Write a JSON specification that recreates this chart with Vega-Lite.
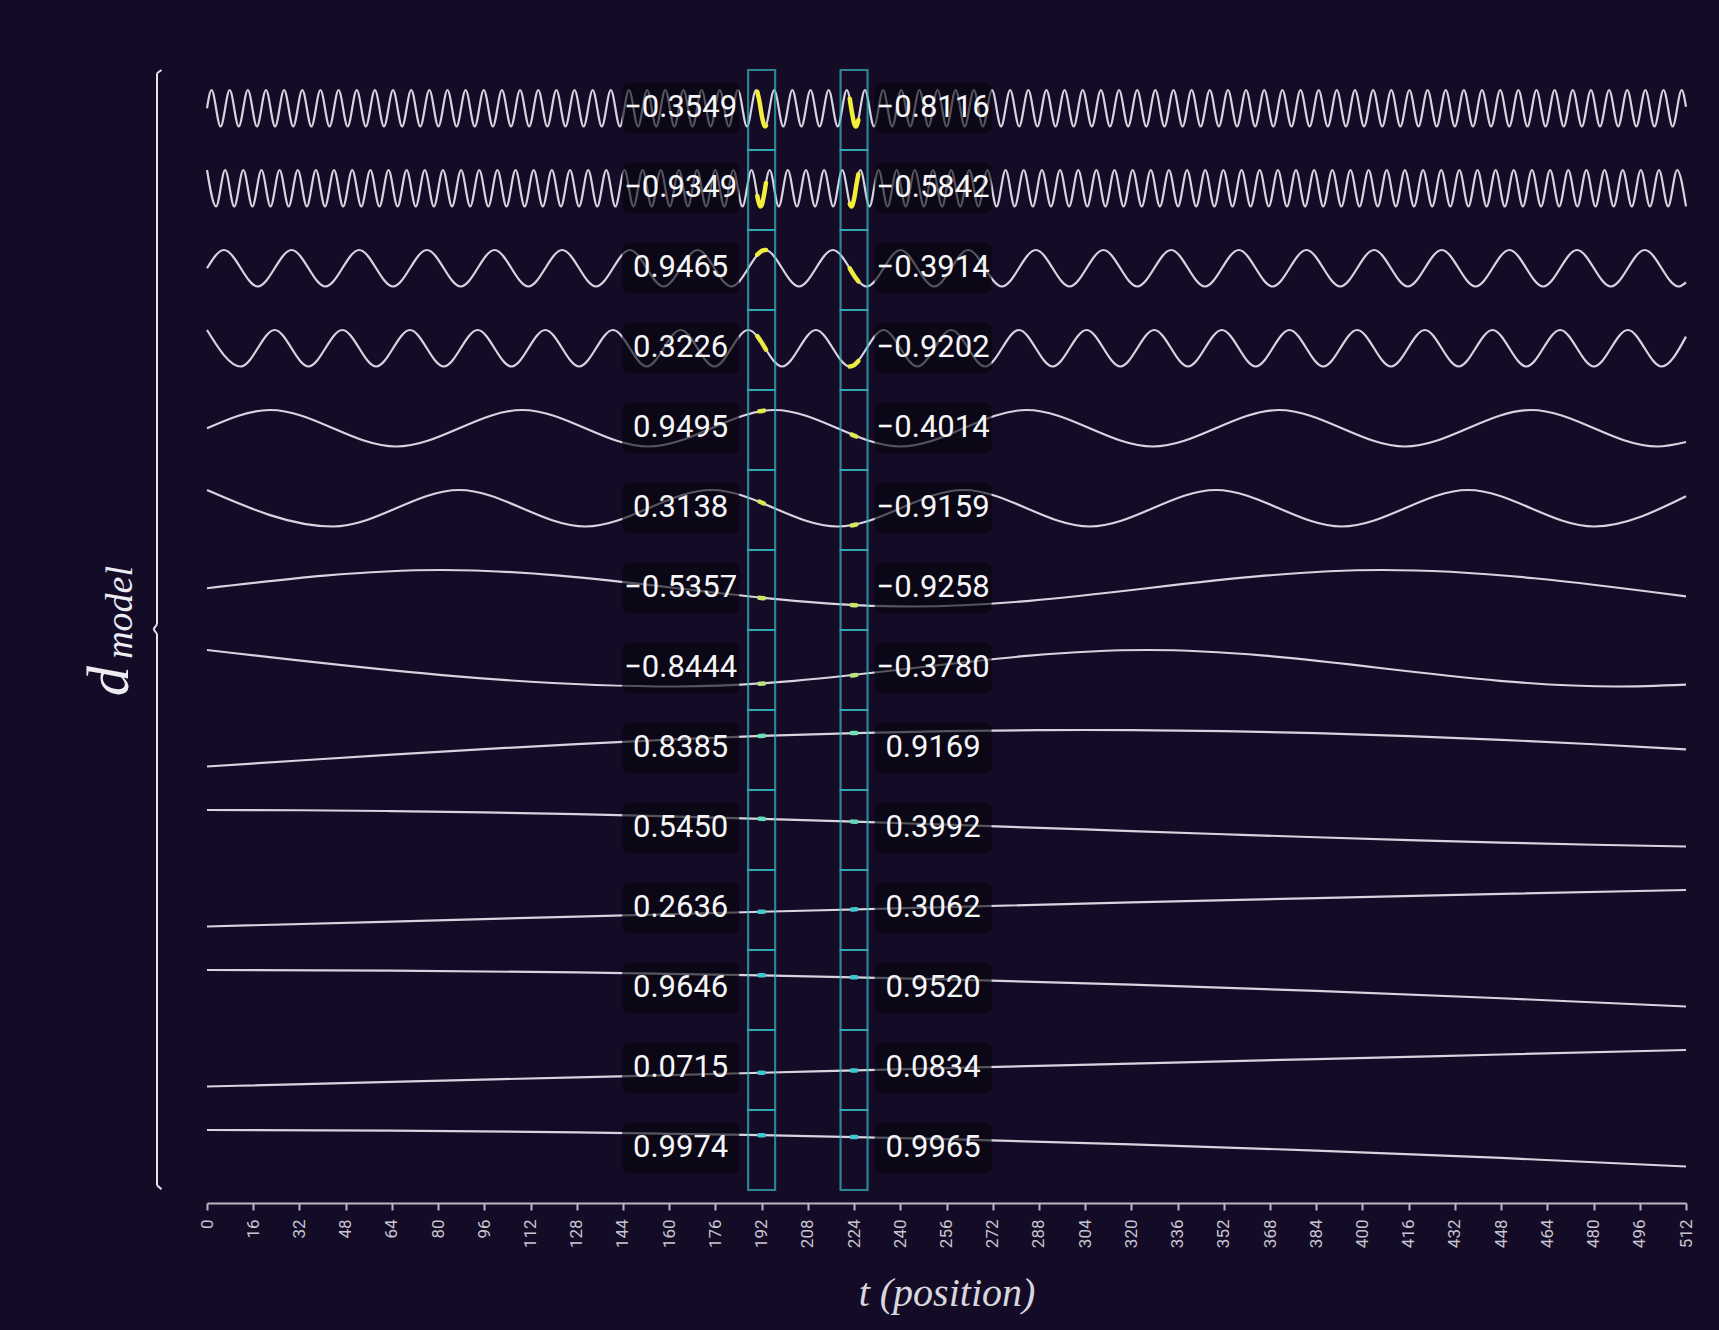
{
  "$schema": "https://vega.github.io/schema/vega-lite/v6.json",
  "description": "Sinusoidal positional encoding, d_model = 14 rows, positions t = 0..512, with t = 192 and t = 224 picked out",
  "background": "#140c27",
  "padding": {"left": 0, "top": 68, "right": 33, "bottom": 16},
  "spacing": 17,
  "bounds": "flush",
  "datasets": {
    "pe": [
      {"k":"c","d":0,"t":0,"v":0},
      {"k":"c","d":0,"t":1.57,"v":1},{"k":"c","d":0,"t":4.71,"v":-1},{"k":"c","d":0,"t":7.85,"v":1},{"k":"c","d":0,"t":10.99,"v":-1},{"k":"c","d":0,"t":14.14,"v":1},{"k":"c","d":0,"t":17.28,"v":-1},{"k":"c","d":0,"t":20.42,"v":1},{"k":"c","d":0,"t":23.56,"v":-1},{"k":"c","d":0,"t":26.7,"v":1},{"k":"c","d":0,"t":29.84,"v":-1},
      {"k":"c","d":0,"t":32.99,"v":1},{"k":"c","d":0,"t":36.13,"v":-1},{"k":"c","d":0,"t":39.27,"v":1},{"k":"c","d":0,"t":42.41,"v":-1},{"k":"c","d":0,"t":45.55,"v":1},{"k":"c","d":0,"t":48.69,"v":-1},{"k":"c","d":0,"t":51.84,"v":1},{"k":"c","d":0,"t":54.98,"v":-1},{"k":"c","d":0,"t":58.12,"v":1},{"k":"c","d":0,"t":61.26,"v":-1},
      {"k":"c","d":0,"t":64.4,"v":1},{"k":"c","d":0,"t":67.54,"v":-1},{"k":"c","d":0,"t":70.69,"v":1},{"k":"c","d":0,"t":73.83,"v":-1},{"k":"c","d":0,"t":76.97,"v":1},{"k":"c","d":0,"t":80.11,"v":-1},{"k":"c","d":0,"t":83.25,"v":1},{"k":"c","d":0,"t":86.39,"v":-1},{"k":"c","d":0,"t":89.53,"v":1},{"k":"c","d":0,"t":92.68,"v":-1},
      {"k":"c","d":0,"t":95.82,"v":1},{"k":"c","d":0,"t":98.96,"v":-1},{"k":"c","d":0,"t":102.1,"v":1},{"k":"c","d":0,"t":105.24,"v":-1},{"k":"c","d":0,"t":108.38,"v":1},{"k":"c","d":0,"t":111.53,"v":-1},{"k":"c","d":0,"t":114.67,"v":1},{"k":"c","d":0,"t":117.81,"v":-1},{"k":"c","d":0,"t":120.95,"v":1},{"k":"c","d":0,"t":124.09,"v":-1},
      {"k":"c","d":0,"t":127.23,"v":1},{"k":"c","d":0,"t":130.38,"v":-1},{"k":"c","d":0,"t":133.52,"v":1},{"k":"c","d":0,"t":136.66,"v":-1},{"k":"c","d":0,"t":139.8,"v":1},{"k":"c","d":0,"t":142.94,"v":-1},{"k":"c","d":0,"t":146.08,"v":1},{"k":"c","d":0,"t":149.22,"v":-1},{"k":"c","d":0,"t":152.37,"v":1},{"k":"c","d":0,"t":155.51,"v":-1},
      {"k":"c","d":0,"t":158.65,"v":1},{"k":"c","d":0,"t":161.79,"v":-1},{"k":"c","d":0,"t":164.93,"v":1},{"k":"c","d":0,"t":168.07,"v":-1},{"k":"c","d":0,"t":171.22,"v":1},{"k":"c","d":0,"t":174.36,"v":-1},{"k":"c","d":0,"t":177.5,"v":1},{"k":"c","d":0,"t":180.64,"v":-1},{"k":"c","d":0,"t":183.78,"v":1},{"k":"c","d":0,"t":186.92,"v":-1},
      {"k":"c","d":0,"t":190.07,"v":1},{"k":"c","d":0,"t":193.21,"v":-1},{"k":"c","d":0,"t":196.35,"v":1},{"k":"c","d":0,"t":199.49,"v":-1},{"k":"c","d":0,"t":202.63,"v":1},{"k":"c","d":0,"t":205.77,"v":-1},{"k":"c","d":0,"t":208.92,"v":1},{"k":"c","d":0,"t":212.06,"v":-1},{"k":"c","d":0,"t":215.2,"v":1},{"k":"c","d":0,"t":218.34,"v":-1},
      {"k":"c","d":0,"t":221.48,"v":1},{"k":"c","d":0,"t":224.62,"v":-1},{"k":"c","d":0,"t":227.76,"v":1},{"k":"c","d":0,"t":230.91,"v":-1},{"k":"c","d":0,"t":234.05,"v":1},{"k":"c","d":0,"t":237.19,"v":-1},{"k":"c","d":0,"t":240.33,"v":1},{"k":"c","d":0,"t":243.47,"v":-1},{"k":"c","d":0,"t":246.61,"v":1},{"k":"c","d":0,"t":249.76,"v":-1},
      {"k":"c","d":0,"t":252.9,"v":1},{"k":"c","d":0,"t":256.04,"v":-1},{"k":"c","d":0,"t":259.18,"v":1},{"k":"c","d":0,"t":262.32,"v":-1},{"k":"c","d":0,"t":265.46,"v":1},{"k":"c","d":0,"t":268.61,"v":-1},{"k":"c","d":0,"t":271.75,"v":1},{"k":"c","d":0,"t":274.89,"v":-1},{"k":"c","d":0,"t":278.03,"v":1},{"k":"c","d":0,"t":281.17,"v":-1},
      {"k":"c","d":0,"t":284.31,"v":1},{"k":"c","d":0,"t":287.45,"v":-1},{"k":"c","d":0,"t":290.6,"v":1},{"k":"c","d":0,"t":293.74,"v":-1},{"k":"c","d":0,"t":296.88,"v":1},{"k":"c","d":0,"t":300.02,"v":-1},{"k":"c","d":0,"t":303.16,"v":1},{"k":"c","d":0,"t":306.3,"v":-1},{"k":"c","d":0,"t":309.45,"v":1},{"k":"c","d":0,"t":312.59,"v":-1},
      {"k":"c","d":0,"t":315.73,"v":1},{"k":"c","d":0,"t":318.87,"v":-1},{"k":"c","d":0,"t":322.01,"v":1},{"k":"c","d":0,"t":325.15,"v":-1},{"k":"c","d":0,"t":328.3,"v":1},{"k":"c","d":0,"t":331.44,"v":-1},{"k":"c","d":0,"t":334.58,"v":1},{"k":"c","d":0,"t":337.72,"v":-1},{"k":"c","d":0,"t":340.86,"v":1},{"k":"c","d":0,"t":344.0,"v":-1},
      {"k":"c","d":0,"t":347.15,"v":1},{"k":"c","d":0,"t":350.29,"v":-1},{"k":"c","d":0,"t":353.43,"v":1},{"k":"c","d":0,"t":356.57,"v":-1},{"k":"c","d":0,"t":359.71,"v":1},{"k":"c","d":0,"t":362.85,"v":-1},{"k":"c","d":0,"t":365.99,"v":1},{"k":"c","d":0,"t":369.14,"v":-1},{"k":"c","d":0,"t":372.28,"v":1},{"k":"c","d":0,"t":375.42,"v":-1},
      {"k":"c","d":0,"t":378.56,"v":1},{"k":"c","d":0,"t":381.7,"v":-1},{"k":"c","d":0,"t":384.84,"v":1},{"k":"c","d":0,"t":387.99,"v":-1},{"k":"c","d":0,"t":391.13,"v":1},{"k":"c","d":0,"t":394.27,"v":-1},{"k":"c","d":0,"t":397.41,"v":1},{"k":"c","d":0,"t":400.55,"v":-1},{"k":"c","d":0,"t":403.69,"v":1},{"k":"c","d":0,"t":406.84,"v":-1},
      {"k":"c","d":0,"t":409.98,"v":1},{"k":"c","d":0,"t":413.12,"v":-1},{"k":"c","d":0,"t":416.26,"v":1},{"k":"c","d":0,"t":419.4,"v":-1},{"k":"c","d":0,"t":422.54,"v":1},{"k":"c","d":0,"t":425.69,"v":-1},{"k":"c","d":0,"t":428.83,"v":1},{"k":"c","d":0,"t":431.97,"v":-1},{"k":"c","d":0,"t":435.11,"v":1},{"k":"c","d":0,"t":438.25,"v":-1},
      {"k":"c","d":0,"t":441.39,"v":1},{"k":"c","d":0,"t":444.53,"v":-1},{"k":"c","d":0,"t":447.68,"v":1},{"k":"c","d":0,"t":450.82,"v":-1},{"k":"c","d":0,"t":453.96,"v":1},{"k":"c","d":0,"t":457.1,"v":-1},{"k":"c","d":0,"t":460.24,"v":1},{"k":"c","d":0,"t":463.38,"v":-1},{"k":"c","d":0,"t":466.53,"v":1},{"k":"c","d":0,"t":469.67,"v":-1},
      {"k":"c","d":0,"t":472.81,"v":1},{"k":"c","d":0,"t":475.95,"v":-1},{"k":"c","d":0,"t":479.09,"v":1},{"k":"c","d":0,"t":482.23,"v":-1},{"k":"c","d":0,"t":485.38,"v":1},{"k":"c","d":0,"t":488.52,"v":-1},{"k":"c","d":0,"t":491.66,"v":1},{"k":"c","d":0,"t":494.8,"v":-1},{"k":"c","d":0,"t":497.94,"v":1},{"k":"c","d":0,"t":501.08,"v":-1},
      {"k":"c","d":0,"t":504.22,"v":1},{"k":"c","d":0,"t":507.37,"v":-1},{"k":"c","d":0,"t":510.51,"v":1},{"k":"c","d":0,"t":512,"v":0.0805},

      {"k":"c","d":1,"t":0,"v":1},{"k":"c","d":1,"t":3.14,"v":-1},{"k":"c","d":1,"t":6.28,"v":1},{"k":"c","d":1,"t":9.42,"v":-1},{"k":"c","d":1,"t":12.57,"v":1},{"k":"c","d":1,"t":15.71,"v":-1},{"k":"c","d":1,"t":18.85,"v":1},{"k":"c","d":1,"t":21.99,"v":-1},{"k":"c","d":1,"t":25.13,"v":1},{"k":"c","d":1,"t":28.27,"v":-1},
      {"k":"c","d":1,"t":31.42,"v":1},{"k":"c","d":1,"t":34.56,"v":-1},{"k":"c","d":1,"t":37.7,"v":1},{"k":"c","d":1,"t":40.84,"v":-1},{"k":"c","d":1,"t":43.98,"v":1},{"k":"c","d":1,"t":47.12,"v":-1},{"k":"c","d":1,"t":50.27,"v":1},{"k":"c","d":1,"t":53.41,"v":-1},{"k":"c","d":1,"t":56.55,"v":1},{"k":"c","d":1,"t":59.69,"v":-1},
      {"k":"c","d":1,"t":62.83,"v":1},{"k":"c","d":1,"t":65.97,"v":-1},{"k":"c","d":1,"t":69.12,"v":1},{"k":"c","d":1,"t":72.26,"v":-1},{"k":"c","d":1,"t":75.4,"v":1},{"k":"c","d":1,"t":78.54,"v":-1},{"k":"c","d":1,"t":81.68,"v":1},{"k":"c","d":1,"t":84.82,"v":-1},{"k":"c","d":1,"t":87.96,"v":1},{"k":"c","d":1,"t":91.11,"v":-1},
      {"k":"c","d":1,"t":94.25,"v":1},{"k":"c","d":1,"t":97.39,"v":-1},{"k":"c","d":1,"t":100.53,"v":1},{"k":"c","d":1,"t":103.67,"v":-1},{"k":"c","d":1,"t":106.81,"v":1},{"k":"c","d":1,"t":109.96,"v":-1},{"k":"c","d":1,"t":113.1,"v":1},{"k":"c","d":1,"t":116.24,"v":-1},{"k":"c","d":1,"t":119.38,"v":1},{"k":"c","d":1,"t":122.52,"v":-1},
      {"k":"c","d":1,"t":125.66,"v":1},{"k":"c","d":1,"t":128.81,"v":-1},{"k":"c","d":1,"t":131.95,"v":1},{"k":"c","d":1,"t":135.09,"v":-1},{"k":"c","d":1,"t":138.23,"v":1},{"k":"c","d":1,"t":141.37,"v":-1},{"k":"c","d":1,"t":144.51,"v":1},{"k":"c","d":1,"t":147.65,"v":-1},{"k":"c","d":1,"t":150.8,"v":1},{"k":"c","d":1,"t":153.94,"v":-1},
      {"k":"c","d":1,"t":157.08,"v":1},{"k":"c","d":1,"t":160.22,"v":-1},{"k":"c","d":1,"t":163.36,"v":1},{"k":"c","d":1,"t":166.5,"v":-1},{"k":"c","d":1,"t":169.65,"v":1},{"k":"c","d":1,"t":172.79,"v":-1},{"k":"c","d":1,"t":175.93,"v":1},{"k":"c","d":1,"t":179.07,"v":-1},{"k":"c","d":1,"t":182.21,"v":1},{"k":"c","d":1,"t":185.35,"v":-1},
      {"k":"c","d":1,"t":188.5,"v":1},{"k":"c","d":1,"t":191.64,"v":-1},{"k":"c","d":1,"t":194.78,"v":1},{"k":"c","d":1,"t":197.92,"v":-1},{"k":"c","d":1,"t":201.06,"v":1},{"k":"c","d":1,"t":204.2,"v":-1},{"k":"c","d":1,"t":207.35,"v":1},{"k":"c","d":1,"t":210.49,"v":-1},{"k":"c","d":1,"t":213.63,"v":1},{"k":"c","d":1,"t":216.77,"v":-1},
      {"k":"c","d":1,"t":219.91,"v":1},{"k":"c","d":1,"t":223.05,"v":-1},{"k":"c","d":1,"t":226.19,"v":1},{"k":"c","d":1,"t":229.34,"v":-1},{"k":"c","d":1,"t":232.48,"v":1},{"k":"c","d":1,"t":235.62,"v":-1},{"k":"c","d":1,"t":238.76,"v":1},{"k":"c","d":1,"t":241.9,"v":-1},{"k":"c","d":1,"t":245.04,"v":1},{"k":"c","d":1,"t":248.19,"v":-1},
      {"k":"c","d":1,"t":251.33,"v":1},{"k":"c","d":1,"t":254.47,"v":-1},{"k":"c","d":1,"t":257.61,"v":1},{"k":"c","d":1,"t":260.75,"v":-1},{"k":"c","d":1,"t":263.89,"v":1},{"k":"c","d":1,"t":267.04,"v":-1},{"k":"c","d":1,"t":270.18,"v":1},{"k":"c","d":1,"t":273.32,"v":-1},{"k":"c","d":1,"t":276.46,"v":1},{"k":"c","d":1,"t":279.6,"v":-1},
      {"k":"c","d":1,"t":282.74,"v":1},{"k":"c","d":1,"t":285.88,"v":-1},{"k":"c","d":1,"t":289.03,"v":1},{"k":"c","d":1,"t":292.17,"v":-1},{"k":"c","d":1,"t":295.31,"v":1},{"k":"c","d":1,"t":298.45,"v":-1},{"k":"c","d":1,"t":301.59,"v":1},{"k":"c","d":1,"t":304.73,"v":-1},{"k":"c","d":1,"t":307.88,"v":1},{"k":"c","d":1,"t":311.02,"v":-1},
      {"k":"c","d":1,"t":314.16,"v":1},{"k":"c","d":1,"t":317.3,"v":-1},{"k":"c","d":1,"t":320.44,"v":1},{"k":"c","d":1,"t":323.58,"v":-1},{"k":"c","d":1,"t":326.73,"v":1},{"k":"c","d":1,"t":329.87,"v":-1},{"k":"c","d":1,"t":333.01,"v":1},{"k":"c","d":1,"t":336.15,"v":-1},{"k":"c","d":1,"t":339.29,"v":1},{"k":"c","d":1,"t":342.43,"v":-1},
      {"k":"c","d":1,"t":345.58,"v":1},{"k":"c","d":1,"t":348.72,"v":-1},{"k":"c","d":1,"t":351.86,"v":1},{"k":"c","d":1,"t":355.0,"v":-1},{"k":"c","d":1,"t":358.14,"v":1},{"k":"c","d":1,"t":361.28,"v":-1},{"k":"c","d":1,"t":364.42,"v":1},{"k":"c","d":1,"t":367.57,"v":-1},{"k":"c","d":1,"t":370.71,"v":1},{"k":"c","d":1,"t":373.85,"v":-1},
      {"k":"c","d":1,"t":376.99,"v":1},{"k":"c","d":1,"t":380.13,"v":-1},{"k":"c","d":1,"t":383.27,"v":1},{"k":"c","d":1,"t":386.42,"v":-1},{"k":"c","d":1,"t":389.56,"v":1},{"k":"c","d":1,"t":392.7,"v":-1},{"k":"c","d":1,"t":395.84,"v":1},{"k":"c","d":1,"t":398.98,"v":-1},{"k":"c","d":1,"t":402.12,"v":1},{"k":"c","d":1,"t":405.27,"v":-1},
      {"k":"c","d":1,"t":408.41,"v":1},{"k":"c","d":1,"t":411.55,"v":-1},{"k":"c","d":1,"t":414.69,"v":1},{"k":"c","d":1,"t":417.83,"v":-1},{"k":"c","d":1,"t":420.97,"v":1},{"k":"c","d":1,"t":424.12,"v":-1},{"k":"c","d":1,"t":427.26,"v":1},{"k":"c","d":1,"t":430.4,"v":-1},{"k":"c","d":1,"t":433.54,"v":1},{"k":"c","d":1,"t":436.68,"v":-1},
      {"k":"c","d":1,"t":439.82,"v":1},{"k":"c","d":1,"t":442.96,"v":-1},{"k":"c","d":1,"t":446.11,"v":1},{"k":"c","d":1,"t":449.25,"v":-1},{"k":"c","d":1,"t":452.39,"v":1},{"k":"c","d":1,"t":455.53,"v":-1},{"k":"c","d":1,"t":458.67,"v":1},{"k":"c","d":1,"t":461.81,"v":-1},{"k":"c","d":1,"t":464.96,"v":1},{"k":"c","d":1,"t":468.1,"v":-1},
      {"k":"c","d":1,"t":471.24,"v":1},{"k":"c","d":1,"t":474.38,"v":-1},{"k":"c","d":1,"t":477.52,"v":1},{"k":"c","d":1,"t":480.66,"v":-1},{"k":"c","d":1,"t":483.81,"v":1},{"k":"c","d":1,"t":486.95,"v":-1},{"k":"c","d":1,"t":490.09,"v":1},{"k":"c","d":1,"t":493.23,"v":-1},{"k":"c","d":1,"t":496.37,"v":1},{"k":"c","d":1,"t":499.51,"v":-1},
      {"k":"c","d":1,"t":502.65,"v":1},{"k":"c","d":1,"t":505.8,"v":-1},{"k":"c","d":1,"t":508.94,"v":1},{"k":"c","d":1,"t":512,"v":-0.9967},

      {"k":"c","d":2,"t":0,"v":0},
      {"k":"c","d":2,"t":5.86,"v":1},{"k":"c","d":2,"t":17.57,"v":-1},{"k":"c","d":2,"t":29.28,"v":1},{"k":"c","d":2,"t":40.99,"v":-1},{"k":"c","d":2,"t":52.7,"v":1},{"k":"c","d":2,"t":64.41,"v":-1},{"k":"c","d":2,"t":76.12,"v":1},{"k":"c","d":2,"t":87.83,"v":-1},{"k":"c","d":2,"t":99.54,"v":1},{"k":"c","d":2,"t":111.25,"v":-1},
      {"k":"c","d":2,"t":122.96,"v":1},{"k":"c","d":2,"t":134.67,"v":-1},{"k":"c","d":2,"t":146.38,"v":1},{"k":"c","d":2,"t":158.09,"v":-1},{"k":"c","d":2,"t":169.81,"v":1},{"k":"c","d":2,"t":181.52,"v":-1},{"k":"c","d":2,"t":193.23,"v":1},{"k":"c","d":2,"t":204.94,"v":-1},{"k":"c","d":2,"t":216.65,"v":1},{"k":"c","d":2,"t":228.36,"v":-1},
      {"k":"c","d":2,"t":240.07,"v":1},{"k":"c","d":2,"t":251.78,"v":-1},{"k":"c","d":2,"t":263.49,"v":1},{"k":"c","d":2,"t":275.2,"v":-1},{"k":"c","d":2,"t":286.91,"v":1},{"k":"c","d":2,"t":298.62,"v":-1},{"k":"c","d":2,"t":310.33,"v":1},{"k":"c","d":2,"t":322.04,"v":-1},{"k":"c","d":2,"t":333.76,"v":1},{"k":"c","d":2,"t":345.47,"v":-1},
      {"k":"c","d":2,"t":357.18,"v":1},{"k":"c","d":2,"t":368.89,"v":-1},{"k":"c","d":2,"t":380.6,"v":1},{"k":"c","d":2,"t":392.31,"v":-1},{"k":"c","d":2,"t":404.02,"v":1},{"k":"c","d":2,"t":415.73,"v":-1},{"k":"c","d":2,"t":427.44,"v":1},{"k":"c","d":2,"t":439.15,"v":-1},{"k":"c","d":2,"t":450.86,"v":1},{"k":"c","d":2,"t":462.57,"v":-1},
      {"k":"c","d":2,"t":474.28,"v":1},{"k":"c","d":2,"t":485.99,"v":-1},{"k":"c","d":2,"t":497.71,"v":1},{"k":"c","d":2,"t":509.42,"v":-1},{"k":"c","d":2,"t":512,"v":-0.77},

      {"k":"c","d":3,"t":0,"v":1},{"k":"c","d":3,"t":11.71,"v":-1},{"k":"c","d":3,"t":23.42,"v":1},{"k":"c","d":3,"t":35.13,"v":-1},{"k":"c","d":3,"t":46.84,"v":1},{"k":"c","d":3,"t":58.55,"v":-1},{"k":"c","d":3,"t":70.26,"v":1},{"k":"c","d":3,"t":81.97,"v":-1},{"k":"c","d":3,"t":93.69,"v":1},{"k":"c","d":3,"t":105.4,"v":-1},
      {"k":"c","d":3,"t":117.11,"v":1},{"k":"c","d":3,"t":128.82,"v":-1},{"k":"c","d":3,"t":140.53,"v":1},{"k":"c","d":3,"t":152.24,"v":-1},{"k":"c","d":3,"t":163.95,"v":1},{"k":"c","d":3,"t":175.66,"v":-1},{"k":"c","d":3,"t":187.37,"v":1},{"k":"c","d":3,"t":199.08,"v":-1},{"k":"c","d":3,"t":210.79,"v":1},{"k":"c","d":3,"t":222.5,"v":-1},
      {"k":"c","d":3,"t":234.21,"v":1},{"k":"c","d":3,"t":245.92,"v":-1},{"k":"c","d":3,"t":257.64,"v":1},{"k":"c","d":3,"t":269.35,"v":-1},{"k":"c","d":3,"t":281.06,"v":1},{"k":"c","d":3,"t":292.77,"v":-1},{"k":"c","d":3,"t":304.48,"v":1},{"k":"c","d":3,"t":316.19,"v":-1},{"k":"c","d":3,"t":327.9,"v":1},{"k":"c","d":3,"t":339.61,"v":-1},
      {"k":"c","d":3,"t":351.32,"v":1},{"k":"c","d":3,"t":363.03,"v":-1},{"k":"c","d":3,"t":374.74,"v":1},{"k":"c","d":3,"t":386.45,"v":-1},{"k":"c","d":3,"t":398.16,"v":1},{"k":"c","d":3,"t":409.87,"v":-1},{"k":"c","d":3,"t":421.59,"v":1},{"k":"c","d":3,"t":433.3,"v":-1},{"k":"c","d":3,"t":445.01,"v":1},{"k":"c","d":3,"t":456.72,"v":-1},
      {"k":"c","d":3,"t":468.43,"v":1},{"k":"c","d":3,"t":480.14,"v":-1},{"k":"c","d":3,"t":491.85,"v":1},{"k":"c","d":3,"t":503.56,"v":-1},{"k":"c","d":3,"t":512,"v":0.638},

      {"k":"c","d":4,"t":0,"v":0},{"k":"c","d":4,"t":21.83,"v":1},{"k":"c","d":4,"t":65.48,"v":-1},{"k":"c","d":4,"t":109.13,"v":1},{"k":"c","d":4,"t":152.78,"v":-1},{"k":"c","d":4,"t":196.43,"v":1},{"k":"c","d":4,"t":240.09,"v":-1},{"k":"c","d":4,"t":283.74,"v":1},{"k":"c","d":4,"t":327.39,"v":-1},{"k":"c","d":4,"t":371.04,"v":1},{"k":"c","d":4,"t":414.69,"v":-1},{"k":"c","d":4,"t":458.35,"v":1},{"k":"c","d":4,"t":502.0,"v":-1},{"k":"c","d":4,"t":512,"v":-0.752},

      {"k":"c","d":5,"t":0,"v":1},{"k":"c","d":5,"t":43.65,"v":-1},{"k":"c","d":5,"t":87.3,"v":1},{"k":"c","d":5,"t":130.96,"v":-1},{"k":"c","d":5,"t":174.61,"v":1},{"k":"c","d":5,"t":218.26,"v":-1},{"k":"c","d":5,"t":261.91,"v":1},{"k":"c","d":5,"t":305.57,"v":-1},{"k":"c","d":5,"t":349.22,"v":1},{"k":"c","d":5,"t":392.87,"v":-1},{"k":"c","d":5,"t":436.52,"v":1},{"k":"c","d":5,"t":480.18,"v":-1},{"k":"c","d":5,"t":512,"v":0.659},

      {"k":"c","d":6,"t":0,"v":0},{"k":"c","d":6,"t":81.36,"v":1},{"k":"c","d":6,"t":244.08,"v":-1},{"k":"c","d":6,"t":406.79,"v":1},{"k":"c","d":6,"t":512,"v":-0.4443},

      {"k":"c","d":7,"t":0,"v":1},{"k":"c","d":7,"t":162.72,"v":-1},{"k":"c","d":7,"t":325.43,"v":1},{"k":"c","d":7,"t":488.15,"v":-1},{"k":"c","d":7,"t":512,"v":-0.8959},

      {"k":"c","d":8,"t":0,"v":0},{"k":"c","d":8,"t":32,"v":0.165},{"k":"c","d":8,"t":64,"v":0.3254},{"k":"c","d":8,"t":96,"v":0.477},{"k":"c","d":8,"t":128,"v":0.6155},{"k":"c","d":8,"t":160,"v":0.7371},{"k":"c","d":8,"t":192,"v":0.8385},{"k":"c","d":8,"t":224,"v":0.9169},{"k":"c","d":8,"t":256,"v":0.9701},{"k":"c","d":8,"t":288,"v":0.9969},{"k":"c","d":8,"t":303.27,"v":1},{"k":"c","d":8,"t":320,"v":0.9963},{"k":"c","d":8,"t":352,"v":0.9683},{"k":"c","d":8,"t":384,"v":0.9138},{"k":"c","d":8,"t":416,"v":0.8344},{"k":"c","d":8,"t":448,"v":0.732},{"k":"c","d":8,"t":480,"v":0.6093},{"k":"c","d":8,"t":512,"v":0.4707},

      {"k":"c","d":9,"t":0,"v":1},{"k":"c","d":9,"t":32,"v":0.9863},{"k":"c","d":9,"t":64,"v":0.9456},{"k":"c","d":9,"t":96,"v":0.8789},{"k":"c","d":9,"t":128,"v":0.7882},{"k":"c","d":9,"t":160,"v":0.6758},{"k":"c","d":9,"t":192,"v":0.545},{"k":"c","d":9,"t":224,"v":0.3992},{"k":"c","d":9,"t":256,"v":0.2424},{"k":"c","d":9,"t":288,"v":0.079},{"k":"c","d":9,"t":320,"v":-0.0865},{"k":"c","d":9,"t":352,"v":-0.2497},{"k":"c","d":9,"t":384,"v":-0.406},{"k":"c","d":9,"t":416,"v":-0.5513},{"k":"c","d":9,"t":448,"v":-0.6813},{"k":"c","d":9,"t":480,"v":-0.7928},{"k":"c","d":9,"t":512,"v":-0.8823},

      {"k":"c","d":10,"t":0,"v":0},{"k":"c","d":10,"t":64,"v":0.0888},{"k":"c","d":10,"t":128,"v":0.1769},{"k":"c","d":10,"t":192,"v":0.2636},{"k":"c","d":10,"t":256,"v":0.3483},{"k":"c","d":10,"t":320,"v":0.4301},{"k":"c","d":10,"t":384,"v":0.5086},{"k":"c","d":10,"t":448,"v":0.5831},{"k":"c","d":10,"t":512,"v":0.6529},

      {"k":"c","d":11,"t":0,"v":1},{"k":"c","d":11,"t":64,"v":0.9961},{"k":"c","d":11,"t":128,"v":0.9842},{"k":"c","d":11,"t":192,"v":0.9646},{"k":"c","d":11,"t":256,"v":0.9374},{"k":"c","d":11,"t":320,"v":0.9028},{"k":"c","d":11,"t":384,"v":0.861},{"k":"c","d":11,"t":448,"v":0.8124},{"k":"c","d":11,"t":512,"v":0.7574},

      {"k":"c","d":12,"t":0,"v":0},{"k":"c","d":12,"t":64,"v":0.0239},{"k":"c","d":12,"t":128,"v":0.0477},{"k":"c","d":12,"t":192,"v":0.0715},{"k":"c","d":12,"t":256,"v":0.0953},{"k":"c","d":12,"t":320,"v":0.119},{"k":"c","d":12,"t":384,"v":0.1427},{"k":"c","d":12,"t":448,"v":0.1662},{"k":"c","d":12,"t":512,"v":0.1897},

      {"k":"c","d":13,"t":0,"v":1},{"k":"c","d":13,"t":64,"v":0.99972},{"k":"c","d":13,"t":128,"v":0.99886},{"k":"c","d":13,"t":192,"v":0.99744},{"k":"c","d":13,"t":256,"v":0.99545},{"k":"c","d":13,"t":320,"v":0.99289},{"k":"c","d":13,"t":384,"v":0.98977},{"k":"c","d":13,"t":448,"v":0.98609},{"k":"c","d":13,"t":512,"v":0.98184},

      {"k":"h","d":0,"s":"a","t":190.5,"v":0.9072},{"k":"h","d":0,"s":"a","t":191.25,"v":0.3776},{"k":"h","d":0,"s":"a","t":192,"v":-0.3549},{"k":"h","d":0,"s":"a","t":193.21,"v":-1},{"k":"h","d":0,"s":"a","t":193.5,"v":-0.9577},
      {"k":"h","d":0,"s":"b","t":222.5,"v":0.5253},{"k":"h","d":0,"s":"b","t":223.5,"v":-0.4322},{"k":"h","d":0,"s":"b","t":224,"v":-0.8116},{"k":"h","d":0,"s":"b","t":224.62,"v":-1},{"k":"h","d":0,"s":"b","t":225.5,"v":-0.6401},
      {"k":"h","d":1,"s":"a","t":190.5,"v":-0.4208},{"k":"h","d":1,"s":"a","t":191.64,"v":-1},{"k":"h","d":1,"s":"a","t":192,"v":-0.9349},{"k":"h","d":1,"s":"a","t":193,"v":-0.2065},{"k":"h","d":1,"s":"a","t":193.5,"v":0.2877},
      {"k":"h","d":1,"s":"b","t":222.5,"v":-0.8509},{"k":"h","d":1,"s":"b","t":223.05,"v":-1},{"k":"h","d":1,"s":"b","t":224,"v":-0.5842},{"k":"h","d":1,"s":"b","t":225,"v":0.3673},{"k":"h","d":1,"s":"b","t":225.5,"v":0.7682},
      {"k":"h","d":2,"s":"a","t":190.5,"v":0.7444},{"k":"h","d":2,"s":"a","t":192,"v":0.9465},{"k":"h","d":2,"s":"a","t":193.23,"v":1},{"k":"h","d":2,"s":"a","t":193.5,"v":0.9973},
      {"k":"h","d":2,"s":"b","t":222.5,"v":0.0004},{"k":"h","d":2,"s":"b","t":224,"v":-0.3914},{"k":"h","d":2,"s":"b","t":225.5,"v":-0.7205},
      {"k":"h","d":3,"s":"a","t":190.5,"v":0.6677},{"k":"h","d":3,"s":"a","t":192,"v":0.3226},{"k":"h","d":3,"s":"a","t":193.5,"v":-0.0736},
      {"k":"h","d":3,"s":"b","t":222.5,"v":-1},{"k":"h","d":3,"s":"b","t":224,"v":-0.9202},{"k":"h","d":3,"s":"b","t":225.5,"v":-0.6935},
      {"k":"h","d":4,"s":"a","t":191.2,"v":0.9298},{"k":"h","d":4,"s":"a","t":192,"v":0.9495},{"k":"h","d":4,"s":"a","t":192.8,"v":0.966},
      {"k":"h","d":4,"s":"b","t":223.2,"v":-0.348},{"k":"h","d":4,"s":"b","t":224,"v":-0.4014},{"k":"h","d":4,"s":"b","t":224.8,"v":-0.4535},
      {"k":"h","d":5,"s":"a","t":191.2,"v":0.368},{"k":"h","d":5,"s":"a","t":192,"v":0.3138},{"k":"h","d":5,"s":"a","t":192.8,"v":0.2586},
      {"k":"h","d":5,"s":"b","t":223.2,"v":-0.9375},{"k":"h","d":5,"s":"b","t":224,"v":-0.9159},{"k":"h","d":5,"s":"b","t":224.8,"v":-0.8913},
      {"k":"h","d":6,"s":"a","t":191.2,"v":-0.5227},{"k":"h","d":6,"s":"a","t":192,"v":-0.5357},{"k":"h","d":6,"s":"a","t":192.8,"v":-0.5487},
      {"k":"h","d":6,"s":"b","t":223.2,"v":-0.92},{"k":"h","d":6,"s":"b","t":224,"v":-0.9258},{"k":"h","d":6,"s":"b","t":224.8,"v":-0.9316},
      {"k":"h","d":7,"s":"a","t":191.2,"v":-0.8527},{"k":"h","d":7,"s":"a","t":192,"v":-0.8444},{"k":"h","d":7,"s":"a","t":192.8,"v":-0.8361},
      {"k":"h","d":7,"s":"b","t":223.2,"v":-0.3923},{"k":"h","d":7,"s":"b","t":224,"v":-0.378},{"k":"h","d":7,"s":"b","t":224.8,"v":-0.3637},
      {"k":"h","d":8,"s":"a","t":191.2,"v":0.8362},{"k":"h","d":8,"s":"a","t":192,"v":0.8385},{"k":"h","d":8,"s":"a","t":192.8,"v":0.8408},
      {"k":"h","d":8,"s":"b","t":223.2,"v":0.9152},{"k":"h","d":8,"s":"b","t":224,"v":0.9169},{"k":"h","d":8,"s":"b","t":224.8,"v":0.9186},
      {"k":"h","d":9,"s":"a","t":191.2,"v":0.5485},{"k":"h","d":9,"s":"a","t":192,"v":0.545},{"k":"h","d":9,"s":"a","t":192.8,"v":0.5415},
      {"k":"h","d":9,"s":"b","t":223.2,"v":0.403},{"k":"h","d":9,"s":"b","t":224,"v":0.3992},{"k":"h","d":9,"s":"b","t":224.8,"v":0.3954},
      {"k":"h","d":10,"s":"a","t":191.2,"v":0.2625},{"k":"h","d":10,"s":"a","t":192,"v":0.2636},{"k":"h","d":10,"s":"a","t":192.8,"v":0.2647},
      {"k":"h","d":10,"s":"b","t":223.2,"v":0.3051},{"k":"h","d":10,"s":"b","t":224,"v":0.3062},{"k":"h","d":10,"s":"b","t":224.8,"v":0.3073},
      {"k":"h","d":11,"s":"a","t":191.2,"v":0.9649},{"k":"h","d":11,"s":"a","t":192,"v":0.9646},{"k":"h","d":11,"s":"a","t":192.8,"v":0.9643},
      {"k":"h","d":11,"s":"b","t":223.2,"v":0.9523},{"k":"h","d":11,"s":"b","t":224,"v":0.952},{"k":"h","d":11,"s":"b","t":224.8,"v":0.9517},
      {"k":"h","d":12,"s":"a","t":191.2,"v":0.0712},{"k":"h","d":12,"s":"a","t":192,"v":0.0715},{"k":"h","d":12,"s":"a","t":192.8,"v":0.0718},
      {"k":"h","d":12,"s":"b","t":223.2,"v":0.0831},{"k":"h","d":12,"s":"b","t":224,"v":0.0834},{"k":"h","d":12,"s":"b","t":224.8,"v":0.0837},
      {"k":"h","d":13,"s":"a","t":191.2,"v":0.99742},{"k":"h","d":13,"s":"a","t":192,"v":0.9974},{"k":"h","d":13,"s":"a","t":192.8,"v":0.99738},
      {"k":"h","d":13,"s":"b","t":223.2,"v":0.99652},{"k":"h","d":13,"s":"b","t":224,"v":0.9965},{"k":"h","d":13,"s":"b","t":224.8,"v":0.99648}
    ]
  },
  "hconcat": [
    {
      "width": 190,
      "height": 1120,
      "data": {"values": [{}]},
      "layer": [
        {
          "mark": {"type": "rule", "color": "#e4e2ea", "strokeWidth": 2},
          "encoding": {
            "x": {"datum": 157, "type": "quantitative", "scale": {"domain": [0, 190], "nice": false, "zero": false}, "axis": null},
            "y": {"datum": 0.04, "type": "quantitative", "scale": {"domain": [0, 14], "nice": false, "zero": false, "reverse": true}, "axis": null},
            "y2": {"datum": 6.93}
          }
        },
        {
          "mark": {"type": "rule", "color": "#e4e2ea", "strokeWidth": 2},
          "encoding": {
            "x": {"datum": 157, "type": "quantitative", "axis": null},
            "y": {"datum": 7.05, "type": "quantitative", "axis": null},
            "y2": {"datum": 13.94}
          }
        },
        {
          "mark": {"type": "rule", "color": "#e4e2ea", "strokeWidth": 2},
          "encoding": {
            "x": {"datum": 157, "type": "quantitative", "axis": null},
            "x2": {"datum": 161.5},
            "y": {"datum": 0.04, "type": "quantitative", "axis": null},
            "y2": {"datum": 0}
          }
        },
        {
          "mark": {"type": "rule", "color": "#e4e2ea", "strokeWidth": 2},
          "encoding": {
            "x": {"datum": 157, "type": "quantitative", "axis": null},
            "x2": {"datum": 161.5},
            "y": {"datum": 13.94, "type": "quantitative", "axis": null},
            "y2": {"datum": 13.99}
          }
        },
        {
          "mark": {"type": "rule", "color": "#e4e2ea", "strokeWidth": 2},
          "encoding": {
            "x": {"datum": 157, "type": "quantitative", "axis": null},
            "x2": {"datum": 153.5},
            "y": {"datum": 6.93, "type": "quantitative", "axis": null},
            "y2": {"datum": 6.99}
          }
        },
        {
          "mark": {"type": "rule", "color": "#e4e2ea", "strokeWidth": 2},
          "encoding": {
            "x": {"datum": 153.5, "type": "quantitative", "axis": null},
            "x2": {"datum": 157},
            "y": {"datum": 6.99, "type": "quantitative", "axis": null},
            "y2": {"datum": 7.05}
          }
        },
        {
          "mark": {"type": "text", "font": "Liberation Serif", "fontStyle": "italic", "fontSize": 60, "angle": 270, "align": "center", "baseline": "alphabetic", "color": "#ecebf2"},
          "encoding": {
            "x": {"datum": 128, "type": "quantitative", "axis": null},
            "y": {"datum": 7.64, "type": "quantitative", "axis": null},
            "text": {"value": "d"}
          }
        },
        {
          "mark": {"type": "text", "font": "Liberation Serif", "fontStyle": "italic", "fontSize": 38, "angle": 270, "align": "center", "baseline": "alphabetic", "color": "#ecebf2"},
          "encoding": {
            "x": {"datum": 132, "type": "quantitative", "axis": null},
            "y": {"datum": 6.78, "type": "quantitative", "axis": null},
            "text": {"value": "model"}
          }
        }
      ]
    },
    {
      "data": {"name": "pe"},
      "facet": {"row": {"field": "d", "type": "ordinal", "header": {"labels": false, "title": null}}},
      "spacing": 0,
      "bounds": "flush",
      "resolve": {"scale": {"y": "independent"}},
      "spec": {
        "width": 1479,
        "height": 80,
        "encoding": {
          "x": {
            "field": "t",
            "type": "quantitative",
            "scale": {"domain": [0, 512], "nice": false, "zero": false},
            "axis": {
              "values": [0,16,32,48,64,80,96,112,128,144,160,176,192,208,224,240,256,272,288,304,320,336,352,368,384,400,416,432,448,464,480,496,512],
              "labelAngle": 270,
              "labelFont": "Roboto",
              "labelFontSize": 17,
              "labelColor": "#c8c6d0",
              "labelPadding": 9,
              "labelFlush": false,
              "labelOverlap": false,
              "domainColor": "#b9b7c2",
              "domainWidth": 2,
              "tickColor": "#b9b7c2",
              "tickWidth": 2,
              "tickSize": 7,
              "offset": 13,
              "grid": false,
              "title": "t (position)",
              "titleFont": "Liberation Serif",
              "titleFontStyle": "italic",
              "titleFontWeight": "normal",
              "titleFontSize": 40,
              "titleColor": "#d8d6de",
              "titlePadding": 26
            }
          }
        },
        "layer": [
          {
            "transform": [{"filter": "datum.k == 'c'"}],
            "mark": {"type": "line", "interpolate": "monotone", "color": "#d6d4de", "strokeWidth": 2.2},
            "encoding": {
              "y": {"field": "v", "type": "quantitative", "scale": {"zero": false, "nice": false, "range": [56.5, 20]}, "axis": null}
            }
          },
          {
            "transform": [{"filter": "datum.k == 'h' && datum.t == 192"}],
            "mark": {"type": "tick", "color": "#07050d", "opacity": 0.62, "thickness": 117, "size": 50, "xOffset": -81, "yOffset": -2, "cornerRadius": 6}
          },
          {
            "transform": [{"filter": "datum.k == 'h' && datum.t == 224"}],
            "mark": {"type": "tick", "color": "#07050d", "opacity": 0.62, "thickness": 117, "size": 50, "xOffset": 79, "yOffset": -2, "cornerRadius": 6}
          },
          {
            "transform": [{"filter": "datum.k == 'h' && datum.t == 192"}],
            "mark": {"type": "text", "font": "Roboto", "fontSize": 31, "fontWeight": "normal", "color": "#f6f6f8", "dx": -81, "dy": -2},
            "encoding": {"text": {"field": "v", "type": "quantitative", "format": ".4f"}}
          },
          {
            "transform": [{"filter": "datum.k == 'h' && datum.t == 224"}],
            "mark": {"type": "text", "font": "Roboto", "fontSize": 31, "fontWeight": "normal", "color": "#f6f6f8", "dx": 79, "dy": -2},
            "encoding": {"text": {"field": "v", "type": "quantitative", "format": ".4f"}}
          },
          {
            "transform": [{"filter": "datum.k == 'h' && (datum.t == 192 || datum.t == 224)"}],
            "mark": {"type": "tick", "filled": false, "color": "#33b8c0", "strokeWidth": 2.2, "thickness": 27, "size": 80}
          },
          {
            "transform": [{"filter": "datum.k == 'h'"}],
            "mark": {"type": "line", "interpolate": "monotone", "strokeWidth": 4.5, "strokeCap": "round"},
            "encoding": {
              "y": {"field": "v", "type": "quantitative", "scale": {"zero": false, "nice": false, "range": [56.5, 20]}, "axis": null},
              "detail": {"field": "s"},
              "color": {
                "field": "d",
                "type": "ordinal",
                "scale": {"range": ["#f3ee3a","#f3ee3a","#f0ec40","#ecea46","#e0ea50","#d4e85c","#c6e66a","#b6e27a","#6fe0b4","#62d8bc","#44c8cc","#3fc6d0","#3fc6d0","#3fc6d0"]},
                "legend": null
              }
            }
          }
        ]
      }
    }
  ],
  "config": {
    "view": {"stroke": null}
  }
}
